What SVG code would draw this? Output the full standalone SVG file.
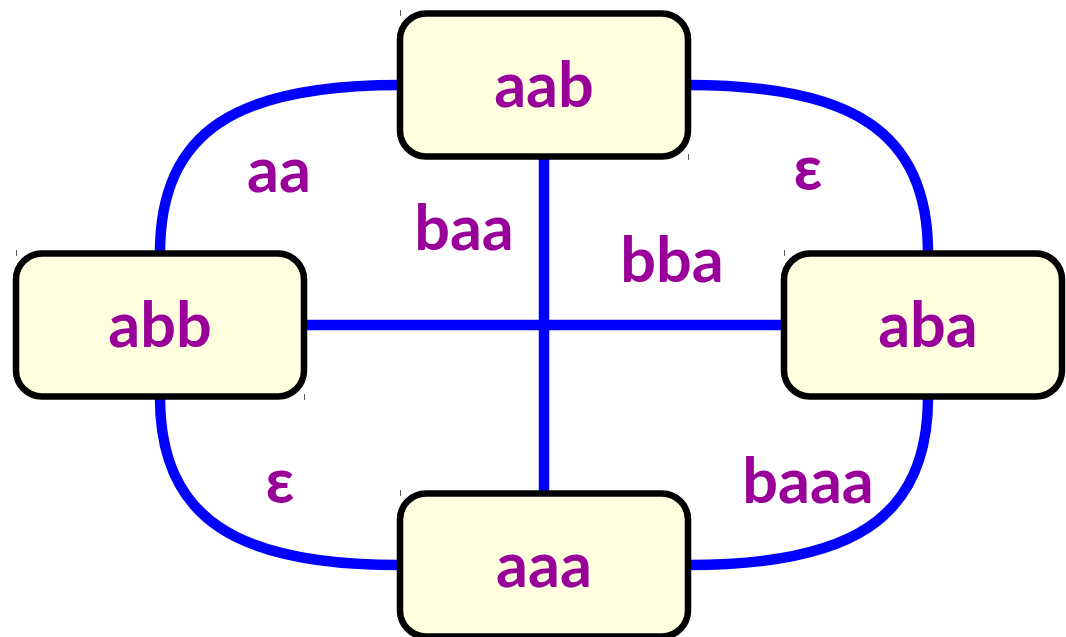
<svg xmlns="http://www.w3.org/2000/svg" width="1066" height="637" viewBox="0 0 1066 637">
  <style>
    .node rect { fill: #FFFFE0; stroke: #000000; stroke-width: 6.5; }
    .lbl { font-family: Lato, "Open Sans", "Liberation Sans", sans-serif; font-weight: bold; font-size: 63px; fill: #990099; text-anchor: middle; }
    .edge { fill: none; stroke: #0000FF; stroke-width: 10.5; }
    .tick { stroke: #555555; stroke-width: 1; }
  </style>
  <rect x="0" y="0" width="1066" height="637" fill="#FFFFFF"/>
  <g id="connectors">
    <path class="edge" d="M400,85 C238,85 160,130 160,253"/>
    <path class="edge" d="M688,85 C850,85 928,130 928,253"/>
    <path class="edge" d="M160,397 C160,520 238,565 400,565"/>
    <path class="edge" d="M928,397 C928,520 850,565 688,565"/>
    <path class="edge" d="M544,157 V493"/>
    <path class="edge" d="M304,325 H784"/>
    <text class="lbl" x="279" y="192">aa</text>
    <text class="lbl" x="808" y="190">ε</text>
    <text class="lbl" x="464" y="250">baa</text>
    <text class="lbl" x="672" y="282">bba</text>
    <text class="lbl" x="280" y="503">ε</text>
    <text class="lbl" x="808" y="503">baaa</text>
  </g>
  <g id="node-aab" class="node">
    <rect x="400" y="13.5" width="288" height="143" rx="26"/>
    <line class="tick" x1="400.5" y1="10" x2="400.5" y2="16"/>
    <line class="tick" x1="688.5" y1="154" x2="688.5" y2="160"/>
    <text class="lbl" x="544" y="107">aab</text>
  </g>
  <g id="node-abb" class="node">
    <rect x="16" y="253.5" width="288" height="143" rx="26"/>
    <line class="tick" x1="16.5" y1="250" x2="16.5" y2="256"/>
    <line class="tick" x1="304.5" y1="394" x2="304.5" y2="400"/>
    <text class="lbl" x="160" y="347">abb</text>
  </g>
  <g id="node-aba" class="node">
    <rect x="784" y="253.5" width="278" height="143" rx="26"/>
    <line class="tick" x1="784.5" y1="250" x2="784.5" y2="256"/>
    <text class="lbl" x="928" y="347">aba</text>
  </g>
  <g id="node-aaa" class="node">
    <rect x="400" y="493.5" width="288" height="143" rx="26"/>
    <line class="tick" x1="400.5" y1="490" x2="400.5" y2="496"/>
    <text class="lbl" x="544" y="587">aaa</text>
  </g>
</svg>
